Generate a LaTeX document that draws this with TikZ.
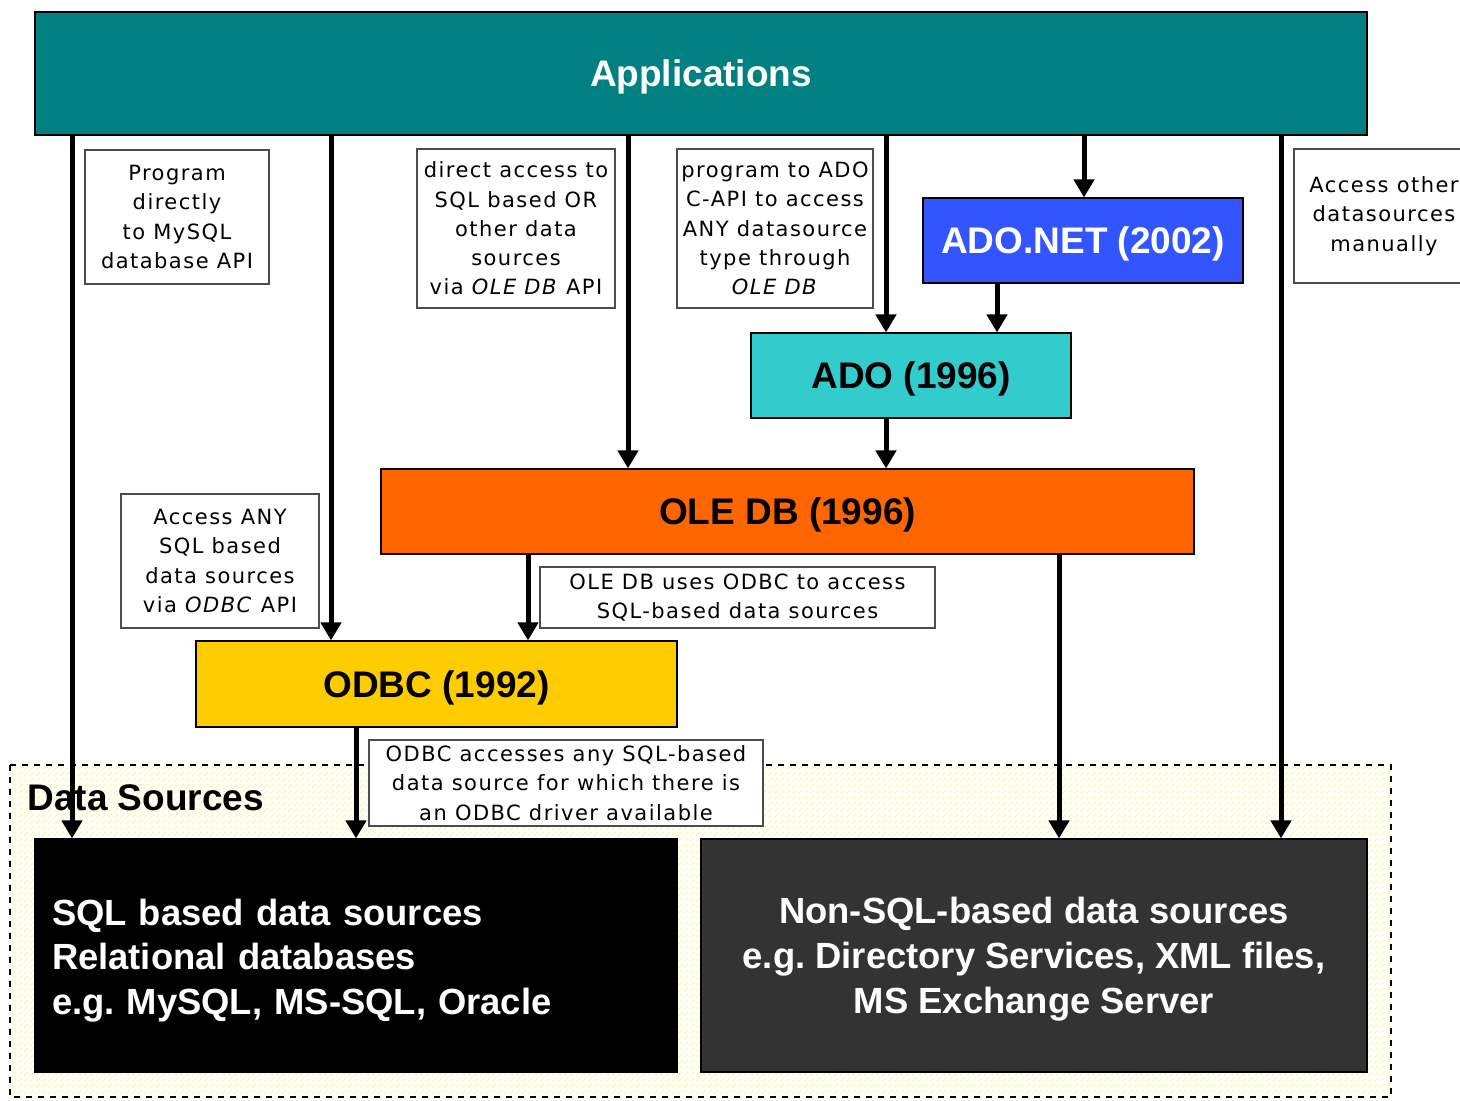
\documentclass[tikz,border=0pt]{standalone}
\usepackage{fontspec}
\setmainfont{Liberation Sans}
\newfontfamily\notefont[LetterSpace=7]{DejaVu Sans}
\usetikzlibrary{arrows.meta, patterns}
\frenchspacing

\definecolor{appteal}{HTML}{008080}
\definecolor{adonetblue}{HTML}{3355FF}
\definecolor{adocyan}{HTML}{33CCCC}
\definecolor{oledborange}{HTML}{FF6600}
\definecolor{odbcyellow}{HTML}{FFCC00}
\definecolor{nonsqlgray}{HTML}{333333}

\begin{document}
\begin{tikzpicture}[
  x=0.5pt, y=-0.5pt,
  layer/.style = {draw=black, line width=0.6pt, inner sep=0pt, text depth=0pt, font=\fontsize{18.5}{22}\selectfont\bfseries},
  source/.style = {draw=black, line width=0.6pt, text=white, minimum width=#1, minimum height=116.5pt, font=\fontsize{18.2}{22.4}\selectfont\bfseries},
  note/.style = {draw=black!70, line width=0.6pt, fill=white, align=center, inner sep=0pt, font=\notefont\fontsize{10.5}{14.6}\selectfont},
  arrow/.style = {line width=2.5pt, -{Triangle[width=10pt, length=9pt]}}
]
  \useasboundingbox (0,0) rectangle (1460,1100);
  \clip (0,0) rectangle (1460,1100);

  % Data sources region
  \draw[dashed, line width=0.6pt, pattern=north east lines, pattern color=yellow!55]
    (10,765) rectangle (1391,1097);
  \node[anchor=west, inner sep=0pt, font=\fontsize{18.5}{22}\selectfont\bfseries] (dslabel) at (27,798) {Data Sources};

  % Layers
  \node[layer, fill=appteal, text=white, minimum width=666pt, minimum height=61.5pt] (app) at (701,73.5) {Applications};
  \node[layer, fill=adonetblue, text=white, minimum width=160pt, minimum height=42.5pt] (adonet) at (1083,240.5) {ADO.NET (2002)};
  \node[layer, fill=adocyan, minimum width=160pt, minimum height=42.5pt] (ado) at (911,375.5) {ADO (1996)};
  \node[layer, fill=oledborange, minimum width=406.5pt, minimum height=42.5pt] (oledb) at (787.5,511.5) {OLE DB (1996)};
  \node[layer, fill=odbcyellow, minimum width=240.5pt, minimum height=43pt] (odbc) at (436.5,684) {ODBC (1992)};

  % Sources
  \node[source=321pt, fill=black, text width=304pt, inner xsep=8.5pt, align=left] (sql) at (356,955.5)
    {\rule{0pt}{18.3pt}SQL based data sources\\Relational databases\\e.g. MySQL, MS-SQL, Oracle};
  \node[source=333pt, fill=nonsqlgray, align=center, text depth=0pt] (nonsql) at (1034,955.5)
    {Non-SQL-based data sources\\e.g. Directory Services, XML files,\\MS Exchange Server};

  % Notes
  \node[note, minimum width=92pt, minimum height=67pt] (n_mysql) at (177,217)
    {Program\\directly\\to MySQL\\database API};
  \node[note, minimum width=99pt, minimum height=79.5pt] (n_oledb) at (516,228.5)
    {direct access to\\SQL based OR\\other data\\sources\\via \textit{OLE DB} API};
  \node[note, minimum width=98pt, minimum height=79.5pt] (n_ado) at (775,228.5)
    {program to ADO\\C-API to access\\ANY datasource\\type through\\\textit{OLE DB}};
  \node[note, minimum width=90pt, minimum height=67pt] (n_other) at (1384,216)
    {Access other\\datasources\\manually};
  \node[note, minimum width=99pt, minimum height=67pt] (n_odbc) at (220,561)
    {Access ANY\\SQL based\\data sources\\via \textit{ODBC} API};
  \node[note, minimum width=197.5pt, minimum height=30.5pt] (n_uses) at (737.5,597.5)
    {OLE DB uses ODBC to access\\SQL-based data sources};
  \node[note, minimum width=197pt, minimum height=43pt] (n_driver) at (566,783)
    {ODBC accesses any SQL-based\\data source for which there is\\an ODBC driver available};

  % Arrow columns
  \coordinate (c1) at (72,0);
  \coordinate (c2) at (331,0);
  \coordinate (c3) at (628,0);
  \coordinate (c4) at (886,0);
  \coordinate (c5) at (1084,0);
  \coordinate (c6) at (1281,0);
  \coordinate (c7) at (997,0);
  \coordinate (c8) at (528,0);
  \coordinate (c9) at (1059,0);
  \coordinate (c10) at (356,0);

  % Arrows
  \draw[arrow] (c1 |- app.south) -- (c1 |- sql.north);
  \draw[arrow] (c2 |- app.south) -- (c2 |- odbc.north);
  \draw[arrow] (c3 |- app.south) -- (c3 |- oledb.north);
  \draw[arrow] (c4 |- app.south) -- (c4 |- ado.north);
  \draw[arrow] (c5 |- app.south) -- (c5 |- adonet.north);
  \draw[arrow] (c6 |- app.south) -- (c6 |- nonsql.north);
  \draw[arrow] (c7 |- adonet.south) -- (c7 |- ado.north);
  \draw[arrow] (c4 |- ado.south) -- (c4 |- oledb.north);
  \draw[arrow] (c8 |- oledb.south) -- (c8 |- odbc.north);
  \draw[arrow] (c9 |- oledb.south) -- (c9 |- nonsql.north);
  \draw[arrow] (c10 |- odbc.south) -- (c10 |- sql.north);

\end{tikzpicture}
\end{document}
